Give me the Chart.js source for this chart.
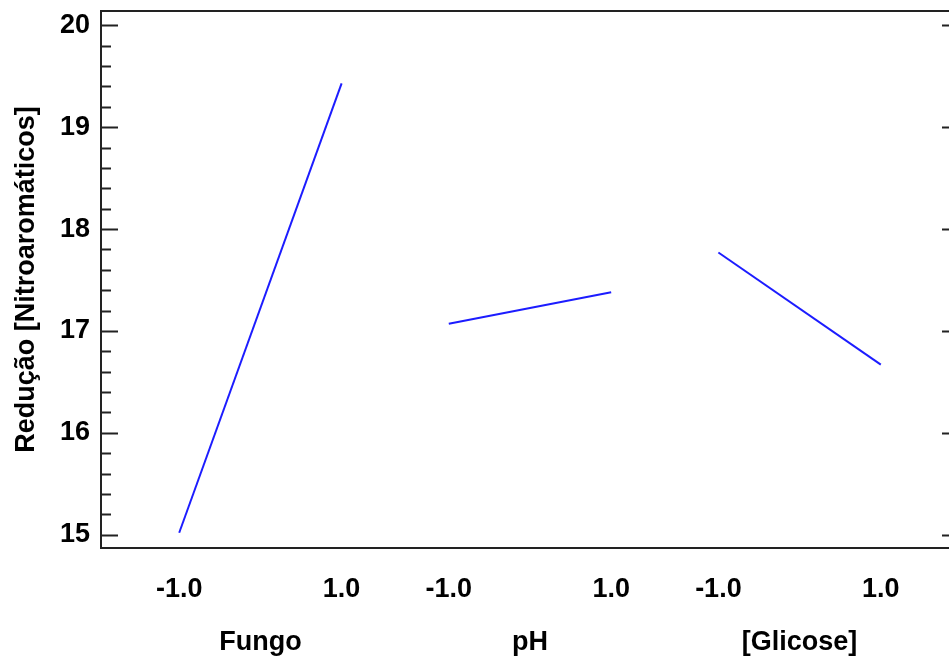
<!DOCTYPE html>
<html>
<head>
<meta charset="utf-8">
<script src="https://cdn.jsdelivr.net/npm/chart.js@4/dist/chart.umd.min.js"></script>
<style>
  html, body { margin: 0; padding: 0; background: #fff; overflow: hidden; }
  #wrap { width: 960px; height: 660px; position: relative; }
</style>
</head>
<body>
<div id="wrap"><canvas id="efeitos"></canvas></div>
<script>
// fatores e niveis
const factors = ['Fungo', 'pH', '[Glicose]'];
const levels = [-1, 1];
const levelLabels = ['-1.0', '1.0'];

// resposta media em cada nivel
const fungoValues = [15.02, 19.43];
const phValues = [17.07, 17.38];
const glicoseValues = [17.77, 16.67];

const yTicks = [15, 16, 17, 18, 19, 20];
const yMin = 14.87, yMax = 20.14;

// distancia entre os paineis no eixo x
const panelGap = 3.32;

const FONT = '"Liberation Sans", Arial, sans-serif';
const AXIS_COLOR = '#222';

function panelData(values, panel) {
    return levels.map((lv, i) => ({ x: panel * panelGap + lv, y: values[i] }));
}

const seriesList = [fungoValues, phValues, glicoseValues];

const datasets = seriesList.map((vals, i) => ({
    label: factors[i],
    data: panelData(vals, i),
    borderColor: '#1c1cff',
    borderWidth: 2,
    pointRadius: 0,
    tension: 0,
    fill: false
}));

let xTickLabels = [];

// moldura de cima/direita + tracos internos do eixo y
const frameTicks = {
    id: 'frameTicks',
    afterDraw(chart) {
        const { ctx, chartArea: a, scales: { y } } = chart;
        ctx.save();
        ctx.strokeStyle = AXIS_COLOR;
        ctx.lineWidth = 2;
        ctx.beginPath();
        ctx.moveTo(a.left, a.top);
        ctx.lineTo(a.right, a.top);
        ctx.lineTo(a.right, a.bottom);
        ctx.stroke();

        for (let v = 15; v <= 20.001; v += 0.2) {
            const major = Math.abs(v - Math.round(v)) < 0.01;
            const len = major ? 17 : 10;
            const py = Math.round(y.getPixelForValue(v)) + 0.5;
            ctx.beginPath();
            ctx.moveTo(a.left, py);
            ctx.lineTo(a.left + len, py);
            ctx.moveTo(a.right, py);
            ctx.lineTo(a.right - len, py);
            ctx.stroke();
        }
        ctx.restore();
    }
};

const ctx = document.getElementById('efeitos').getContext('2d');
new Chart(ctx, {
    type: 'line',
    data: { datasets: datasets },
    options: {
        responsive: true,
        maintainAspectRatio: false,
        animation: false,
        layout: { padding: { top: 11, right: 1, left: 0, bottom: 0 } },
        plugins: { legend: { display: false }, tooltip: { enabled: false } },
        scales: {
            x: {
                type: 'linear',
                min: -1.963,
                max: 2 * panelGap + 1.963,
                grid: { display: false, drawTicks: false },
                border: { display: true, color: AXIS_COLOR, width: 2 },
                afterBuildTicks(scale) {
                    const t = [];
                    xTickLabels = [];
                    factors.forEach((name, i) => {
                        t.push({ value: i * panelGap - 1 });
                        xTickLabels.push([levelLabels[0], '']);
                        t.push({ value: i * panelGap });
                        xTickLabels.push(['', name]);
                        t.push({ value: i * panelGap + 1 });
                        xTickLabels.push([levelLabels[1], '']);
                    });
                    scale.ticks = t;
                },
                afterFit(scale) {
                    scale.height = 112;
                    scale.paddingLeft = 0;
                    scale.paddingRight = 0;
                },
                ticks: {
                    autoSkip: false,
                    maxRotation: 0,
                    padding: 15,
                    color: '#000',
                    font: { family: FONT, size: 27, weight: 'bold', lineHeight: 1.96 },
                    callback: (value, index) => xTickLabels[index]
                }
            },
            y: {
                min: yMin,
                max: yMax,
                grid: { display: false, drawTicks: false },
                border: { display: true, color: AXIS_COLOR, width: 2 },
                afterBuildTicks(scale) {
                    scale.ticks = yTicks.map(v => ({ value: v }));
                },
                afterFit(scale) {
                    scale.width = 101;
                    scale.paddingTop = 0;
                    scale.paddingBottom = 0;
                },
                ticks: {
                    padding: 11,
                    color: '#000',
                    font: { family: FONT, size: 27, weight: 'bold' }
                },
                title: {
                    display: true,
                    text: 'Redução [Nitroaromáticos]',
                    color: '#000',
                    padding: { top: 10, bottom: 0 },
                    font: { family: FONT, size: 27, weight: 'bold' }
                }
            }
        }
    },
    plugins: [frameTicks]
});
</script>
</body>
</html>
